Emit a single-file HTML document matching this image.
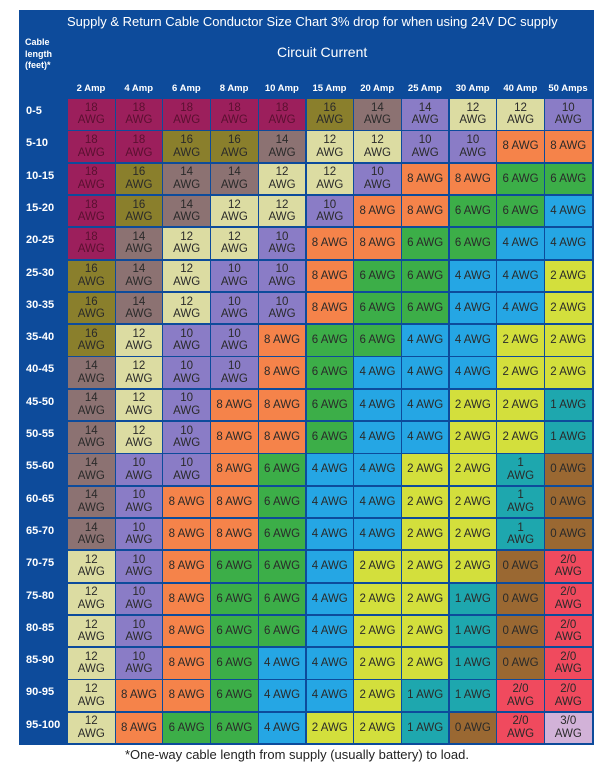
<!DOCTYPE html>
<html><head><meta charset="utf-8"><style>
body{margin:0;width:611px;height:771px;background:#fff;position:relative;font-family:"Liberation Sans",Arial,sans-serif;overflow:hidden}
#p{position:absolute;left:19px;top:10px;width:575px;height:735px;background:#0d4b9b}
.t{position:absolute;color:#fff;white-space:nowrap}
.c{position:absolute;width:46.5px;height:30.5px;display:flex;align-items:center;justify-content:center;text-align:center;font-size:11.5px;line-height:12.5px;color:#2a2a2a}
.h{position:absolute;color:#fff;font-size:9.5px;font-weight:bold;width:48px;text-align:center;top:83px}
.r{position:absolute;left:26px;color:#fff;font-size:11px;font-weight:bold}
</style></head><body>
<div id="p"></div>
<div class="t" style="left:67px;top:14px;font-size:13px">Supply &amp; Return Cable Conductor Size Chart 3% drop for when using 24V DC supply</div>
<div class="t" style="left:277px;top:44px;font-size:14px">Circuit Current</div>
<div class="t" style="left:25px;top:37px;font-size:9px;font-weight:bold;line-height:11.5px">Cable<br>length<br>(feet)*</div>
<div id="g"></div>
<div class="t" style="left:125px;top:747px;font-size:13px;color:#222">*One-way cable length from supply (usually battery) to load.</div>
<script>
var amps=["2 Amp","4 Amp","6 Amp","8 Amp","10 Amp","15 Amp","20 Amp","25 Amp","30 Amp","40 Amp","50 Amps"];
var rows=["0-5","5-10","10-15","15-20","20-25","25-30","30-35","35-40","40-45","45-50","50-55","55-60","60-65","65-70","70-75","75-80","80-85","85-90","90-95","95-100"];
var d=[
"18,18,18,18,18,16,14,14,12,12,10",
"18,18,16,16,14,12,12,10,10,8,8",
"18,16,14,14,12,12,10,8,8,6,6",
"18,16,14,12,12,10,8,8,6,6,4",
"18,14,12,12,10,8,8,6,6,4,4",
"16,14,12,10,10,8,6,6,4,4,2",
"16,14,12,10,10,8,6,6,4,4,2",
"16,12,10,10,8,6,6,4,4,2,2",
"14,12,10,10,8,6,4,4,4,2,2",
"14,12,10,8,8,6,4,4,2,2,1",
"14,12,10,8,8,6,4,4,2,2,1",
"14,10,10,8,6,4,4,2,2,1,0",
"14,10,8,8,6,4,4,2,2,1,0",
"14,10,8,8,6,4,4,2,2,1,0",
"12,10,8,6,6,4,2,2,2,0,2/0",
"12,10,8,6,6,4,2,2,1,0,2/0",
"12,10,8,6,6,4,2,2,1,0,2/0",
"12,10,8,6,4,4,2,2,1,0,2/0",
"12,8,8,6,4,4,2,1,1,2/0,2/0",
"12,8,6,6,4,2,2,1,0,2/0,3/0"];
var col={"18":"#9c1f5c","16":"#8a7f2c","14":"#8c7272","12":"#dcdca2","10":"#8a7cc6","8":"#f5834a","6":"#3cae48","4":"#25a6e4","2":"#d3df3c","1":"#1ea7ae","0":"#9a6832","2/0":"#f04a5e","3/0":"#d2b2d8"};
var h="";
for(var j=0;j<11;j++)h+='<div class="h" style="left:'+(67+j*47.7)+'px">'+amps[j]+'</div>';
for(var i=0;i<20;i++){
 var y=99+i*32.3;
 h+='<div class="r" style="top:'+(y+6)+'px">'+rows[i]+'</div>';
 var v=d[i].split(",");
 for(var j=0;j<11;j++){
  var g=v[j],two=(parseInt(g)>=10&&g.indexOf("/")<0)||g.indexOf("/")>=0||(g=="1"&&j==9);
  var c=col[g];
  if(i==0&&j==7)c=col["10"];
  var fc=(g=="18")?"#5a1030":"#2a2a2a";
  h+='<div class="c" style="left:'+(68+j*47.7)+'px;top:'+y+'px;background:'+c+';color:'+fc+'">'+(two?g+'<br>AWG':g+' AWG')+'</div>';
 }
}
document.getElementById("g").innerHTML=h;
</script>
</body></html>
